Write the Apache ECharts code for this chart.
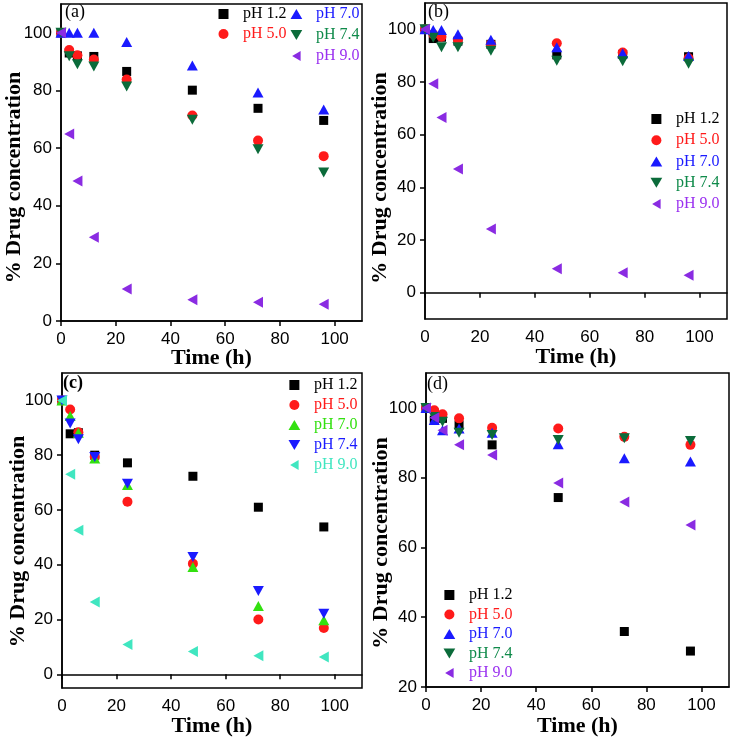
<!DOCTYPE html>
<html>
<head>
<meta charset="utf-8">
<script src="https://cdn.jsdelivr.net/npm/echarts@6/dist/echarts.min.js"></script>
<style>html,body{margin:0;padding:0;background:#fff;}#c{width:733px;height:743px;}</style>
</head>
<body>
<div id="c"></div>
<script>
const times = [0, 3, 6, 12, 24, 48, 72, 96];
const xTicks = [0, 20, 40, 60, 80, 100];
const yTicksABC = [0, 20, 40, 60, 80, 100];
const yTicksD = [20, 40, 60, 80, 100];
const phLabels = ['pH 1.2', 'pH 5.0', 'pH 7.0', 'pH 7.4', 'pH 9.0'];
const panelLabels = ['(a)', '(b)', '(c)', '(d)'];

const a_ph12 = [100, 93.0, 92.0, 91.8, 86.6, 80.1, 73.8, 69.6];
const a_ph50 = [100, 94.0, 92.2, 90.7, 83.8, 71.3, 62.6, 57.2];
const a_ph70 = [100, 100, 100, 100, 96.8, 88.7, 79.3, 73.4];
const a_ph74 = [100, 91.9, 89.1, 88.3, 81.4, 69.8, 59.6, 51.5];
const a_ph90 = [100, 64.9, 48.6, 29.1, 11.1, 7.4, 6.5, 5.8];

const b_ph12 = [100, 96.5, 97.0, 95.5, 94.3, 90.3, 90.5, 89.6];
const b_ph50 = [100, 98.1, 97.2, 96.0, 94.4, 94.7, 91.2, 89.0];
const b_ph70 = [100, 99.7, 99.7, 98.1, 96.0, 93.2, 90.9, 89.9];
const b_ph74 = [100, 96.8, 93.2, 93.2, 91.9, 88.1, 87.9, 86.9];
const b_ph90 = [100, 79.3, 66.5, 47.0, 24.2, 9.1, 7.6, 6.6];

const c_ph12 = [100, 87.8, 88.2, 80.0, 77.2, 72.3, 61.0, 53.8];
const c_ph50 = [100, 96.7, 88.4, 79.4, 63.0, 40.4, 20.0, 16.9];
const c_ph70 = [100, 94.3, 88.2, 78.8, 69.1, 39.2, 24.9, 19.7];
const c_ph74 = [100, 91.6, 85.8, 79.3, 69.6, 42.8, 30.4, 22.1];
const c_ph90 = [100, 73.0, 52.6, 26.4, 10.9, 8.3, 6.8, 6.3];

const d_ph12 = [100, 96.5, 97.0, 95.1, 89.4, 74.3, 35.9, 30.3];
const d_ph50 = [100, 99.3, 98.2, 97.0, 94.3, 94.1, 91.7, 89.4];
const d_ph70 = [100, 96.5, 93.6, 94.1, 92.9, 89.6, 85.6, 84.6];
const d_ph74 = [100, 97.4, 96.0, 92.9, 92.2, 90.8, 91.3, 90.5];
const d_ph90 = [100, 97.2, 93.6, 89.4, 86.5, 78.5, 73.0, 66.4];

const BLACK = '#000000', RED = '#ff1a1a', BLUE = '#1a1aff', DGREEN = '#0b6b3a',
      PURPLE = '#8a2be2', LGREEN = '#33e010', CYAN = '#40e6c0';
const GTXT = '#0f8a4a', PTXT = '#9a30f0';

const SQ = 'path://M0,0L10,0L10,10L0,10Z', CI = 'circle', UP = 'path://M10,0L20,17L0,17Z',
      DN = 'path://M0,0L20,0L10,17Z', LF = 'path://M17,0L17,20L0,10Z';
function symSize(s) {
  if (s === SQ) return 9;
  if (s === CI) return 10;
  if (s === LF) return [10, 11];
  return [11, 10];
}

const panels = [
  { data: [a_ph12, a_ph50, a_ph70, a_ph74, a_ph90], colors: [BLACK, RED, BLUE, DGREEN, PURPLE],
    txt: [BLACK, RED, BLUE, GTXT, PTXT], syms: [SQ, CI, UP, DN, LF],
    grid: { left: 61, top: 4, width: 301, height: 317 }, ymin: 0, yticks: yTicksABC, ngap: 36, nshift: 30, xgap: 26 },
  { data: [b_ph12, b_ph50, b_ph70, b_ph74, b_ph90], colors: [BLACK, RED, BLUE, DGREEN, PURPLE],
    txt: [BLACK, RED, BLUE, GTXT, PTXT], syms: [SQ, CI, UP, DN, LF],
    grid: { left: 425, top: 3, width: 302, height: 316 }, ymin: -10, yticks: yTicksABC, ngap: 34, nshift: 34, xgap: 27 },
  { data: [c_ph12, c_ph50, c_ph70, c_ph74, c_ph90], colors: [BLACK, RED, LGREEN, BLUE, CYAN],
    txt: [BLACK, RED, LGREEN, BLUE, CYAN], syms: [SQ, CI, UP, DN, LF],
    grid: { left: 62, top: 373, width: 300, height: 315 }, ymin: -5, yticks: yTicksABC, ngap: 33, nshift: 22, xgap: 27 },
  { data: [d_ph12, d_ph50, d_ph70, d_ph74, d_ph90], colors: [BLACK, RED, BLUE, DGREEN, PURPLE],
    txt: [BLACK, RED, BLUE, GTXT, PTXT], syms: [SQ, CI, UP, DN, LF],
    grid: { left: 426, top: 373, width: 303, height: 314 }, ymin: 20, yticks: yTicksD, ngap: 34, nshift: 26, xgap: 28 }
];

// legend layout: [panel, item indices, left, top, gap]
const legendLayout = [
  [0, [0, 1], 218.5, 6, 4],
  [0, [2, 3, 4], 290.5, 6, 5],
  [1, [0, 1, 2, 3, 4], 650.5, 111, 5.25],
  [2, [0, 1, 2, 3, 4], 288.5, 377, 4],
  [3, [0, 1, 2, 3, 4], 443.5, 587, 3.5]
];
const labelPos = [[65, 3], [428, 3], [63, 374], [427, 375]];

const nameMap = {};
const grids = [], xAxes = [], yAxes = [], series = [], legends = [], titles = [];
const axisFontL = { fontFamily: 'Liberation Sans', fontSize: 17, color: '#000' };
const nameFont = { fontFamily: 'Liberation Serif', fontSize: 22, fontWeight: 'bold', color: '#000' };

panels.forEach((p, i) => {
  grids.push(Object.assign({ show: true, borderColor: '#000', borderWidth: 1.5, backgroundColor: 'transparent',
    containLabel: false, outerBoundsMode: 'none' }, p.grid));
  xAxes.push({
    type: 'value', gridIndex: i, min: 0, max: 110,
    name: 'Time (h)', nameLocation: 'middle', nameGap: p.xgap, nameTextStyle: nameFont, nameMoveOverlap: false,
    axisLine: { show: true, lineStyle: { color: '#000', width: 1.5 } },
    axisTick: { show: true, length: 5, inside: false, lineStyle: { width: 1.5, color: '#000' }, customValues: xTicks },
    axisLabel: Object.assign({ margin: 10, customValues: xTicks }, axisFontL),
    splitLine: { show: false }
  });
  yAxes.push({
    type: 'value', gridIndex: i, min: p.ymin, max: 110,
    name: '% Drug concentration', nameLocation: 'middle', nameGap: p.ngap, nameMoveOverlap: false,
    nameTextStyle: Object.assign({ padding: [0, p.nshift, 0, 0] }, nameFont),
    axisLine: { show: true, lineStyle: { color: '#000', width: 1.5 } },
    axisTick: { show: true, length: 5, inside: false, lineStyle: { width: 1.5, color: '#000' }, customValues: p.yticks },
    axisLabel: Object.assign({ margin: 9, customValues: p.yticks }, axisFontL),
    splitLine: { show: false }
  });
  p.data.forEach((vals, k) => {
    const nm = 'p' + i + '_' + k;
    nameMap[nm] = phLabels[k];
    series.push({
      type: 'scatter', name: nm, xAxisIndex: i, yAxisIndex: i,
      symbol: p.syms[k], symbolSize: symSize(p.syms[k]),
      itemStyle: { color: p.colors[k], opacity: 1 },
      data: times.map((t, j) => [t, vals[j]]),
      z: 2 + k
    });
  });
  titles.push({
    text: panelLabels[i], left: labelPos[i][0], top: labelPos[i][1], padding: 0,
    textStyle: { fontFamily: 'Liberation Serif', fontSize: 18, fontWeight: i === 2 ? 'bold' : 'normal', color: '#000' }
  });
});

legendLayout.forEach(([pi, idx, left, top, gap]) => {
  const p = panels[pi];
  legends.push({
    orient: 'vertical', left: left, top: top, padding: 0, itemGap: gap,
    itemWidth: 29, itemHeight: 10, symbolKeepAspect: true, selectedMode: false,
    formatter: (name) => nameMap[name],
    textStyle: { fontFamily: 'Liberation Serif', fontSize: 16, lineHeight: 16 },
    data: idx.map(k => ({ name: 'p' + pi + '_' + k, textStyle: { color: p.txt[k] } }))
  });
});

const chart = echarts.init(document.getElementById('c'), null, { renderer: 'canvas' });
chart.setOption({
  animation: false,
  backgroundColor: '#fff',
  title: titles,
  grid: grids, xAxis: xAxes, yAxis: yAxes, legend: legends, series: series
});
</script>
</body>
</html>
